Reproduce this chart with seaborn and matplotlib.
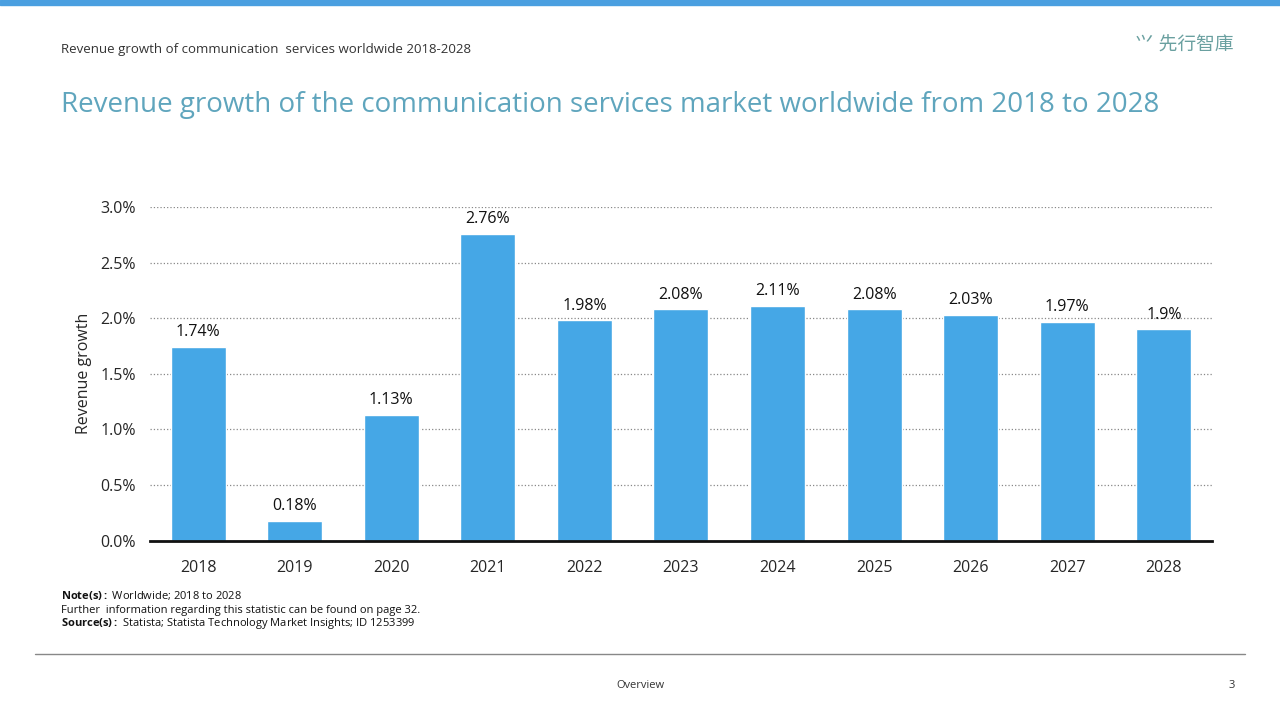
import matplotlib
matplotlib.use('Agg')
import matplotlib.pyplot as plt
import seaborn as sns
import pandas as pd
from matplotlib.lines import Line2D
from matplotlib.patches import Rectangle

years = ['2018', '2019', '2020', '2021', '2022', '2023', '2024', '2025', '2026', '2027', '2028']
growth = [1.74, 0.18, 1.13, 2.76, 1.98, 2.08, 2.11, 2.08, 2.03, 1.97, 1.9]
labels = ['1.74%', '0.18%', '1.13%', '2.76%', '1.98%', '2.08%', '2.11%', '2.08%', '2.03%', '1.97%', '1.9%']
yticks = [0.0, 0.5, 1.0, 1.5, 2.0, 2.5, 3.0]

sns.set_style('white')
plt.rcParams['font.family'] = ['Open Sans', 'Noto Sans CJK SC', 'DejaVu Sans']
plt.rcParams['mathtext.fontset'] = 'custom'
plt.rcParams['mathtext.bf'] = 'Open Sans:bold'

df = pd.DataFrame({'year': years, 'growth': growth})
fig = plt.figure(figsize=(12.8, 7.2), dpi=100)
ax = fig.add_axes([0.117, 0.249, 0.83, 0.4635])
sns.barplot(data=df, x='year', y='growth', color='#45a7e6', saturation=1, width=0.57, ax=ax)

for i, (v, t) in enumerate(zip(growth, labels)):
    ax.text(i, v + 0.06, t, ha='center', va='bottom', fontsize=11.5, color='#111111')

ax.set_ylim(0, 3.0)
ax.set_xlim(-0.5, 10.5)
ax.set_yticks(yticks)
ax.set_yticklabels([f'{v:.1f}%' for v in yticks], fontsize=11.5)
ax.tick_params(axis='x', labelsize=11.5, length=0, pad=14)
ax.tick_params(axis='y', length=0, pad=10)
ax.yaxis.grid(True, linestyle=':', color='#888888', linewidth=0.9)
ax.set_axisbelow(True)
for s in ['top', 'right', 'left']:
    ax.spines[s].set_visible(False)
ax.spines['bottom'].set_color('#111111')
ax.spines['bottom'].set_linewidth(2)
ax.set_xlabel('')
ax.set_ylabel('Revenue growth', fontsize=11.5, labelpad=6)

# slide decorations
fig.patches.append(Rectangle((0, 0.993), 1, 0.007, transform=fig.transFigure, color='#4a9fe0'))
fig.text(0.048, 0.931, 'Revenue growth of communication  services worldwide 2018-2028', fontsize=9.5, color='#333333', va='center')
fig.text(0.887, 0.937, '⺍ 先行智庫', fontsize=13.5, color='#6aa0a0', va='center')
fig.text(0.048, 0.854, 'Revenue growth of the communication services market worldwide from 2018 to 2028',
         fontsize=20, color='#5fa5bd', va='center')
fig.text(0.048, 0.168, r'$\bf{Note(s):}$ Worldwide; 2018 to 2028', fontsize=8, color='#111111')
fig.text(0.048, 0.148, 'Further  information regarding this statistic can be found on page 32.', fontsize=8, color='#111111')
fig.text(0.048, 0.130, r'$\bf{Source(s):}$ Statista; Statista Technology Market Insights; ID 1253399', fontsize=8, color='#111111')
fig.lines.append(Line2D([0.027, 0.973], [0.091, 0.091], transform=fig.transFigure, color='#888888', linewidth=1))
fig.text(0.5, 0.045, 'Overview', fontsize=8, color='#333333', ha='center')
fig.text(0.962, 0.045, '3', fontsize=8, color='#333333', ha='center')

fig.savefig('out.png', dpi=100)
